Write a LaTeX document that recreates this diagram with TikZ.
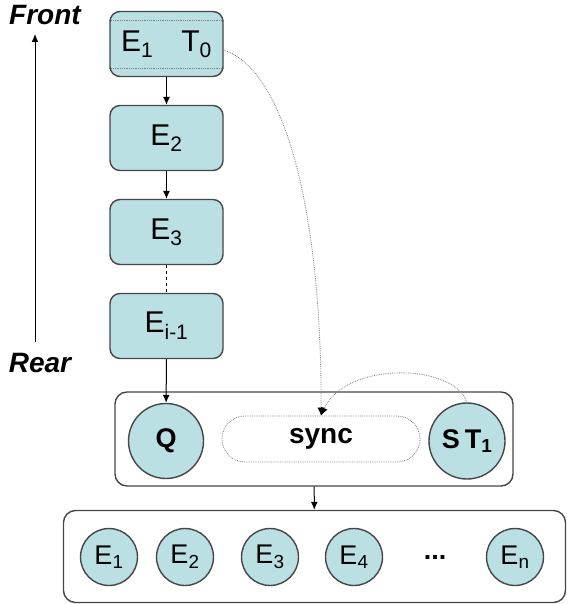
\documentclass[tikz,border=0pt]{standalone}
\usepackage{fontspec}
\setmainfont{Liberation Sans}
\usetikzlibrary{calc,arrows.meta}

\definecolor{cellfill}{RGB}{186,224,228}
\definecolor{cellline}{RGB}{70,70,70}

\begin{document}
\begin{tikzpicture}[x=1pt,y=-1pt,
	qbox/.style={draw=cellline, line width=1.4pt, fill=cellfill, rounded corners=10pt,
		minimum width=113pt, minimum height=65pt, inner sep=0pt, font=\fontsize{30}{32}\selectfont},
	qcirc/.style={draw=cellline, line width=1.4pt, fill=cellfill, circle, inner sep=0pt},
	frame/.style={draw=cellline, line width=1.4pt, rounded corners=12pt, inner sep=0pt},
	link/.style={line width=1pt, -{Latex[length=8pt,width=7pt]}},
	hint/.style={draw=gray, densely dotted, line width=0.8pt},
	side/.style={font=\fontsize{28}{30}\selectfont\bfseries\itshape}]
	\useasboundingbox (0,0) rectangle (567,604);
	
	\newcommand{\Step}{94}
	
	% the queue, front to rear
	\node[qbox] (E1) at (166.5,44) {E\textsubscript{1}\hspace{28pt}T\textsubscript{0}};
	\node[qbox] (E2) at (166.5,44+\Step) {E\textsubscript{2}};
	\node[qbox] (E3) at (166.5,44+2*\Step) {E\textsubscript{3}};
	\node[qbox] (Ei) at (166.5,44+3*\Step) {E\textsubscript{i-1}};
	\draw[hint] ($(E1.north west)+(0,10)$) -- ($(E1.north east)+(0,10)$);
	\draw[hint] ($(E1.south west)+(0,-9)$) -- ($(E1.south east)+(0,-9)$);
	
	\draw[link] (E1) -- (E2);
	\draw[link] (E2) -- (E3);
	\draw[line width=1pt, dashed] (E3) -- (Ei);
	
	% front / rear
	\node[side] (Front) at (45,15) {Front};
	\node[side] (Rear) at (40,363) {Rear};
	\coordinate (RearEnd) at (35,342);
	\coordinate (FrontEnd) at (35,34);
	\draw[link] (RearEnd) -- (FrontEnd);
	
	% sync stage
	\node[frame, minimum width=398pt, minimum height=94pt] (Mid) at (314,439) {};
	\node[qcirc, minimum size=75pt, font=\fontsize{27}{29}\selectfont\bfseries] (Q) at (166,441) {Q};
	\node[hint, rounded corners=23pt, minimum width=198pt, minimum height=46pt,
		font=\fontsize{28}{30}\selectfont\bfseries] (Sync) at (321,439) {sync};
	\node[qcirc, minimum size=76pt, font=\fontsize{27}{29}\selectfont\bfseries] (ST) at (467,441) {S\hspace{5pt}T\textsubscript{1}};
	
	\draw[link] (Ei) -- (Q);
	\draw[hint, -{Latex[length=8pt,width=7pt,color=black]}] ([yshift=-6pt]E1.east) .. controls (290,72) and (322,230) .. (Sync.north);
	\draw[hint, -{Latex[length=8pt,width=7pt,color=black]}] (ST.north) .. controls (452,362) and (345,362) .. (Sync.north);
	
	% result set
	\node[frame, minimum width=502pt, minimum height=92pt] (Bot) at (314.5,556.5) {};
	\foreach \n/\x in {1/109, 2/185, 3/270, 4/354, n/515}
		\node[qcirc, minimum size=57pt, font=\fontsize{27}{29}\selectfont] (R\n) at (\x,557) {E\textsubscript{\n}};
	\node[font=\fontsize{27}{29}\selectfont\bfseries] (Dots) at (435,557) {...};
	
	\draw[link] (Mid) -- (Bot);
\end{tikzpicture}
\end{document}
